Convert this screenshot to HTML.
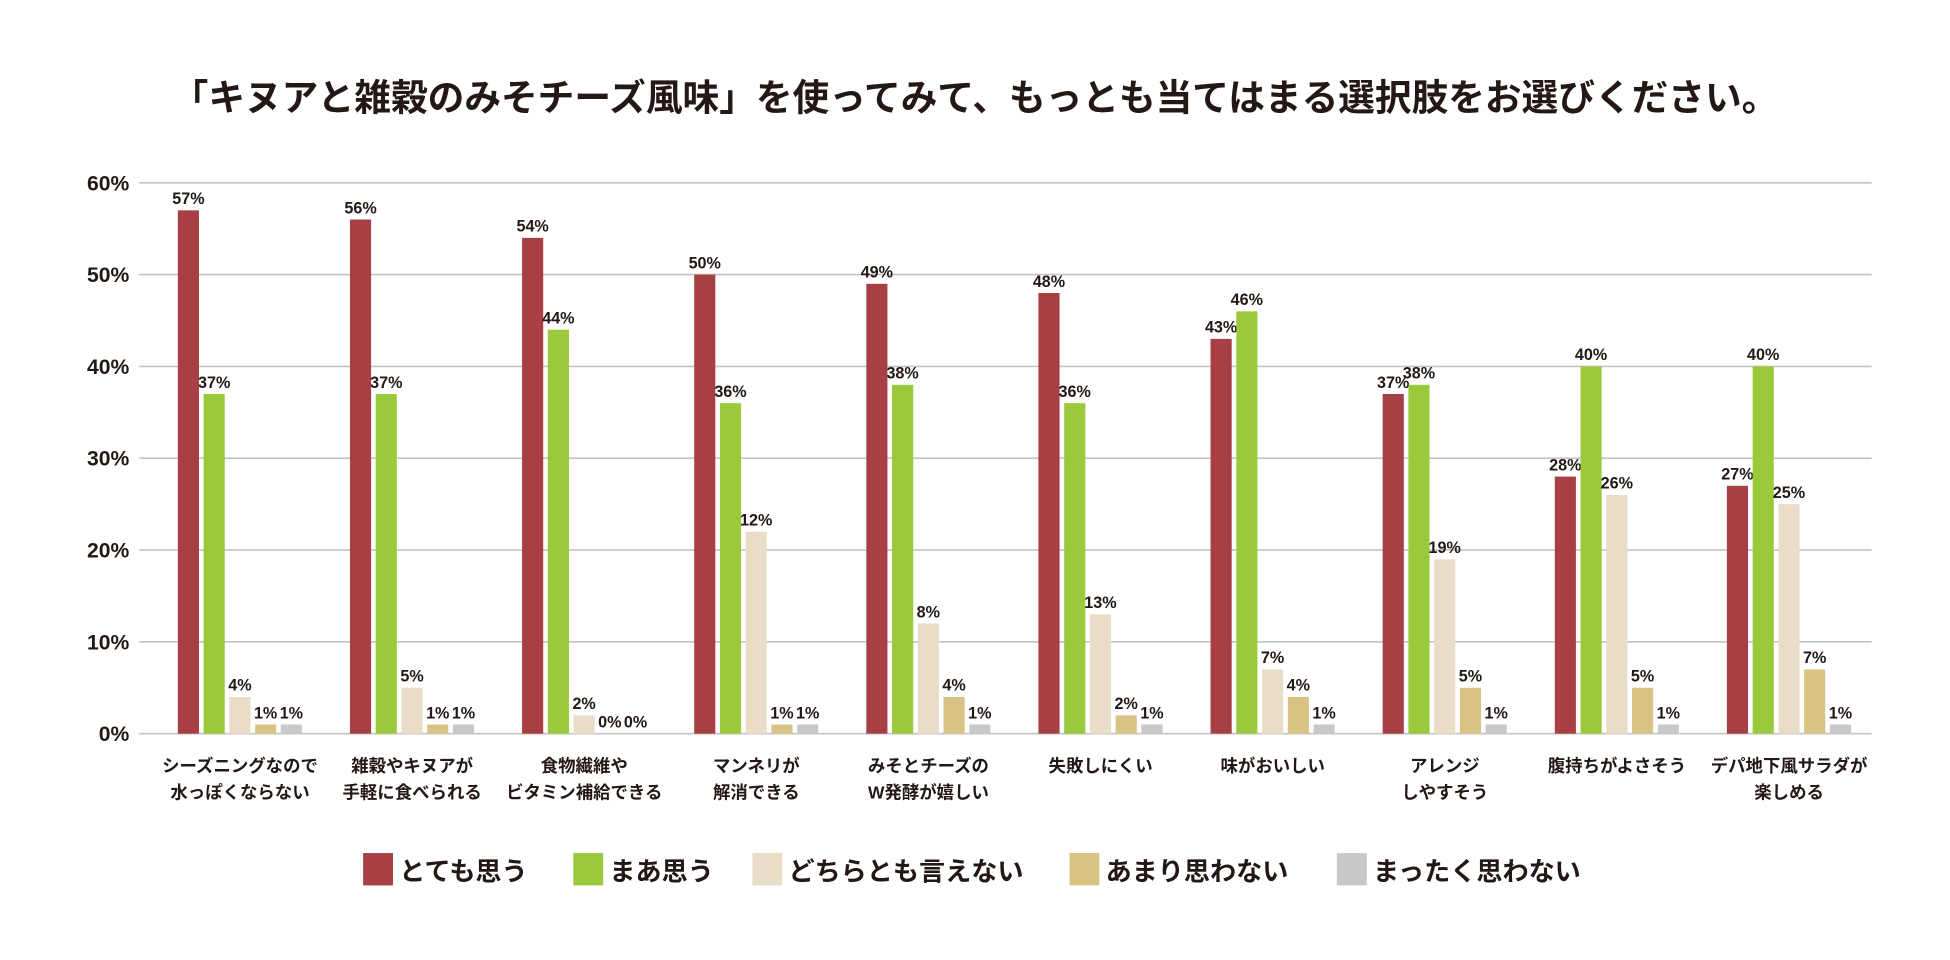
<!DOCTYPE html>
<html><head><meta charset="utf-8"><style>
html,body{margin:0;padding:0;background:#fff;}
svg{display:block;}
text{font-family:"Liberation Sans","Noto Sans CJK JP",sans-serif;font-weight:bold;fill:#231815;}
</style></head><body>
<svg id="chart" width="1950" height="960" viewBox="0 0 1568 772" preserveAspectRatio="none" xmlns="http://www.w3.org/2000/svg">
<text x="784" y="89" text-anchor="middle" font-size="29.5">「キヌアと雑穀のみそチーズ風味」を使ってみて、もっとも当てはまる選択肢をお選びください。</text>
<g id="grid"></g><g id="bars"></g><g id="cats"></g><g id="legend"></g>
</svg>
<script>
const categories=[["シーズニングなので","水っぽくならない"],["雑穀やキヌアが","手軽に食べられる"],["食物繊維や","ビタミン補給できる"],["マンネリが","解消できる"],["みそとチーズの","W発酵が嬉しい"],["失敗しにくい"],["味がおいしい"],["アレンジ","しやすそう"],["腹持ちがよさそう"],["デパ地下風サラダが","楽しめる"]];
const seriesNames=["とても思う","まあ思う","どちらとも言えない","あまり思わない","まったく思わない"];
const s1=[57,56,54,50,49,48,43,37,28,27];
const s2=[37,37,44,36,38,36,46,38,40,40];
const s3=[4,5,2,22,12,13,7,19,26,25];
const s4=[1,1,0,1,4,2,4,5,5,7];
const s5=[1,1,0,1,1,1,1,1,1,1];
const l3=["4%","5%","2%","12%","8%","13%","7%","19%","26%","25%"];
const yTicks=[0,10,20,30,40,50,60];
const colors=["#A83F45","#9ACA3C","#EADDC8","#D8C384","#C8C8C8"];
const NS="http://www.w3.org/2000/svg";
const y0=590,y60=147,xL=112,xR=1505;
function yS(v){return y0-(v/60)*(y0-y60);}
function gX(i){return 143+i*138.4;}
function mk(t,a,p,txt){const e=document.createElementNS(NS,t);for(const k in a)e.setAttribute(k,a[k]);if(txt!==undefined)e.textContent=txt;p.appendChild(e);return e;}
const grid=document.getElementById('grid');
yTicks.forEach(v=>{
 const ln=mk('line',{x1:xL,x2:xR,y1:yS(v),y2:yS(v),stroke:'#c4c4c4','stroke-width':1.3},grid);
 
 
 const t=mk('text',{x:104,y:yS(v)+6,'text-anchor':'end','font-size':17},grid,v+'%');
 
 
});
const series=[s1,s2,s3,s4,s5];
const bars=document.getElementById('bars');
series.forEach((s,k)=>{
 s.forEach((v,i)=>{
  const x=gX(i)+k*20.7;
  const r=mk('rect',{x:x,y:yS(v),width:17,height:y0-yS(v),fill:colors[k]},bars);
  
  
  const lab=k===2?l3[i]:v+'%';
  const t=mk('text',{x:x+8.5,y:yS(v)-5,'text-anchor':'middle','font-size':13},bars,lab);
  
  
 });
});
const cats=document.getElementById('cats');
categories.forEach((c,i)=>{
 const cx=gX(i)+50;
 c.forEach((line,j)=>{
  const t=mk('text',{x:cx,y:621+j*21,'text-anchor':'middle','font-size':14},cats,line);
  
  
 });
});
const leg=document.getElementById('legend');
const legX=[292,461,605,860,1075];
seriesNames.forEach((n,k)=>{
 const r=mk('rect',{x:legX[k],y:686,width:24,height:26,fill:colors[k]},leg);
 
 
 const t=mk('text',{x:legX[k]+29,y:708,'font-size':21},leg,n);
 
 
});
</script>
</body></html>
